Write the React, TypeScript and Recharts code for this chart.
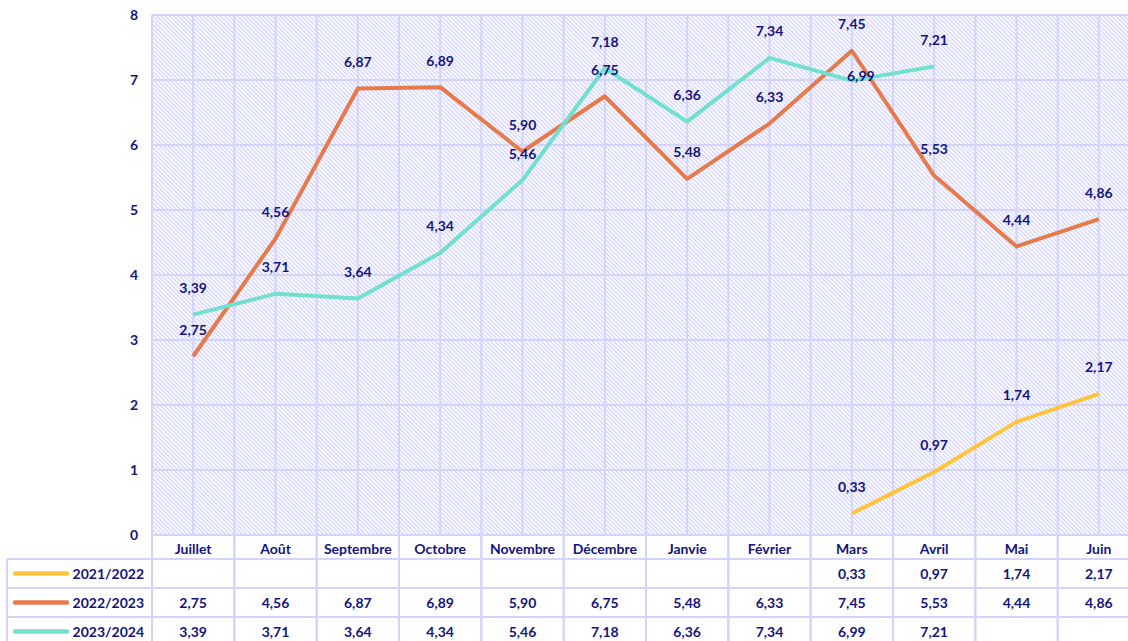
import * as React from "react";
import {
  LineChart,
  Line,
  XAxis,
  YAxis,
  CartesianGrid,
  LabelList,
} from "recharts";

const months = [
  "Juillet", "Août", "Septembre", "Octobre", "Novembre", "Décembre",
  "Janvie", "Février", "Mars", "Avril", "Mai", "Juin",
];
const s2122 = [null, null, null, null, null, null, null, null, 0.33, 0.97, 1.74, 2.17];
const s2223 = [2.75, 4.56, 6.87, 6.89, 5.9, 6.75, 5.48, 6.33, 7.45, 5.53, 4.44, 4.86];
const s2324 = [3.39, 3.71, 3.64, 4.34, 5.46, 7.18, 6.36, 7.34, 6.99, 7.21, null, null];
const yTicks = [0, 1, 2, 3, 4, 5, 6, 7, 8];

const series = [
  { key: "s2122", name: "2021/2022", values: s2122, color: "#FFC53A" },
  { key: "s2223", name: "2022/2023", values: s2223, color: "#E67A4B" },
  { key: "s2324", name: "2023/2024", values: s2324, color: "#72E0CD" },
];

const data = months.map((m, i) => ({
  month: m,
  s2122: s2122[i],
  s2223: s2223[i],
  s2324: s2324[i],
}));

// chart geometry
const W = 1140;
const H = 641;
const Y_W = 152;
const TOP = 15;
const X_H = 106;
const COL_W = (W - Y_W) / months.length;

const NAVY = "#14147E";
const GRID = "#d4d4fb";

// manual label nudges (Excel moved one label by hand)
const labelNudge: Record<string, { dx: number; dy: number }> = {
  "s2324-8": { dx: 9, dy: -5 },
};

const fmt = (v: number | null) => (v == null ? "" : v.toFixed(2).replace(".", ","));

function makeLabel(key: string) {
  return (props: any) => {
    const { x, y, value, index } = props;
    if (value == null) return null;
    const n = labelNudge[`${key}-${index}`] ?? { dx: 0, dy: -27 };
    return (
      <text
        x={x + n.dx}
        y={y + n.dy}
        textAnchor="middle"
        dominantBaseline="central"
        fill={NAVY}
        fontSize={14}
        fontWeight={700}
      >
        {fmt(value)}
      </text>
    );
  };
}

// rows of the data table under the axis (offsets from axis line)
const HEADER_MID = 13;
const ROW_TOPS = [24, 53, 82];
const ROW_H = 29;

function TableTick(props: any) {
  const { x, y, payload } = props;
  const idx = payload.index;
  const left = x - COL_W / 2;
  const right = x + COL_W / 2;
  return (
    <g>
      <line x1={left} y1={y} x2={left} y2={y + 120} stroke={GRID} strokeWidth={2} />
      <line x1={right} y1={y} x2={right} y2={y + 120} stroke={GRID} strokeWidth={2} />
      {ROW_TOPS.map((t) => (
        <line key={t} x1={left} y1={y + t} x2={right} y2={y + t} stroke={GRID} strokeWidth={2} />
      ))}
      <text x={x} y={y + HEADER_MID} textAnchor="middle" dominantBaseline="central"
        fill={NAVY} fontSize={14} fontWeight={700}>
        {payload.value}
      </text>
      {series.map((s, r) => (
        <text key={s.key} x={x} y={y + ROW_TOPS[r] + ROW_H / 2} textAnchor="middle"
          dominantBaseline="central" fill={NAVY} fontSize={14} fontWeight={700}>
          {fmt(s.values[idx])}
        </text>
      ))}
      {idx === 0 && (
        <g>
          <line x1={7} y1={y + ROW_TOPS[0]} x2={7} y2={y + 120} stroke={GRID} strokeWidth={2} />
          {ROW_TOPS.map((t) => (
            <line key={t} x1={7} y1={y + t} x2={left} y2={y + t} stroke={GRID} strokeWidth={2} />
          ))}
          {series.map((s, r) => {
            const cy = y + ROW_TOPS[r] + ROW_H / 2;
            return (
              <g key={s.key}>
                <line x1={15} y1={cy} x2={67} y2={cy} stroke={s.color} strokeWidth={4.5}
                  strokeLinecap="round" />
                <text x={144} y={cy} textAnchor="end" dominantBaseline="central"
                  fill={NAVY} fontSize={14} fontWeight={700}>
                  {s.name}
                </text>
              </g>
            );
          })}
        </g>
      )}
    </g>
  );
}

export default function App() {
  return (
    <div
      style={{
        position: "absolute",
        left: 0,
        top: 0,
        width: 1128,
        height: 641,
        overflow: "hidden",
        background: "#fff",
        fontFamily: "Lato, 'Open Sans', sans-serif",
      }}
    >
      <LineChart
        width={W}
        height={H}
        data={data}
        margin={{ top: TOP, right: 0, left: 0, bottom: 0 }}
      >
        <defs>
          <pattern id="hatch" width="3" height="3" patternUnits="userSpaceOnUse"
            patternTransform="rotate(-45)">
            <rect width="3" height="3" fill="#ffffff" />
            <rect width="1.3" height="3" fill="#d2d2fc" />
          </pattern>
        </defs>
        <CartesianGrid
          fill="url(#hatch)"
          fillOpacity={1}
          stroke={GRID}
          strokeWidth={2}
          verticalCoordinatesGenerator={({ offset }: any) => {
            const pts: number[] = [];
            for (let i = 0; i <= months.length * 2; i++) {
              pts.push(offset.left + (i * offset.width) / (months.length * 2));
            }
            return pts;
          }}
        />
        <XAxis
          dataKey="month"
          height={X_H}
          padding={{ left: COL_W / 2, right: COL_W / 2 }}
          axisLine={false}
          tickLine={false}
          tickSize={0}
          tickMargin={0}
          interval={0}
          tick={<TableTick />}
        />
        <YAxis
          width={Y_W}
          domain={[0, 8]}
          ticks={yTicks}
          axisLine={false}
          tickLine={false}
          tickSize={0}
          tickMargin={14}
          tick={{ fill: NAVY, fontSize: 14, fontWeight: 700 }}
        />
        {series.map((s) => (
          <Line
            key={s.key}
            dataKey={s.key}
            stroke={s.color}
            strokeWidth={4}
            strokeLinejoin="round"
            dot={false}
            activeDot={false}
            type="linear"
            isAnimationActive={false}
          />
        ))}
        {series.map((s) => (
          <Line
            key={`lbl-${s.key}`}
            dataKey={s.key}
            stroke="none"
            dot={false}
            activeDot={false}
            isAnimationActive={false}
          >
            <LabelList dataKey={s.key} content={makeLabel(s.key)} />
          </Line>
        ))}
      </LineChart>
    </div>
  );
}
